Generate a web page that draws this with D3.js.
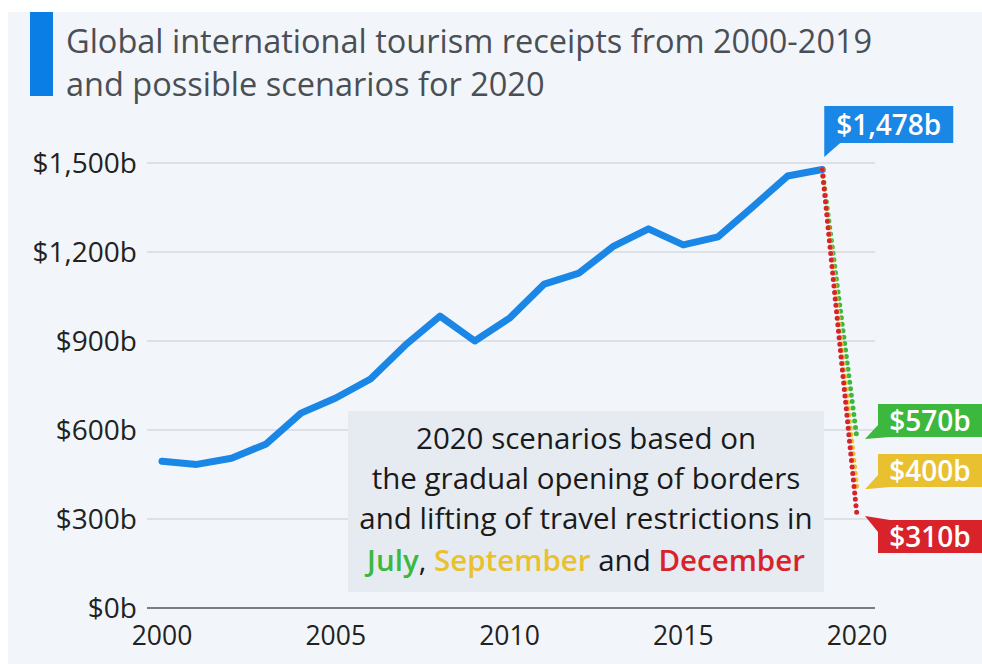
<!DOCTYPE html>
<html>
<head>
<meta charset="utf-8">
<script src="https://cdn.jsdelivr.net/npm/d3@7"></script>
<style>
  body { margin: 0; background: #fff; }
  svg { display: block; font-family: "Open Sans", "Noto Sans", sans-serif; }
</style>
</head>
<body>
<svg id="chart" width="982" height="664"></svg>
<script>
// data
const years = d3.range(2000, 2020);
const receipts = [495, 484, 505, 553, 657, 708, 772, 886, 984, 900, 977, 1092, 1129, 1220, 1278, 1224, 1251, 1352, 1456, 1478];
const scenarioNames = ['July', 'September', 'December'];
const scenarioValues = [570, 400, 310];
const scenarioColors = ['#3cb83f', '#e9c130', '#d8232a'];
const yTicks = [0, 300, 600, 900, 1200, 1500];
const xTicks = [2000, 2005, 2010, 2015, 2020];

const svg = d3.select('#chart');

svg.append('rect').attr('x', 8).attr('y', 12).attr('width', 974).attr('height', 652).attr('fill', '#f2f6fa');

// title
svg.append('rect').attr('x', 30).attr('y', 12).attr('width', 23).attr('height', 84).attr('fill', '#0b7ee6');
const title = svg.append('text').attr('fill', '#4a4f55').style('font-size', '32.5px');
title.append('tspan').attr('x', 66).attr('y', 53).text('Global international tourism receipts from 2000-2019');
title.append('tspan').attr('x', 66).attr('y', 96).text('and possible scenarios for 2020');

const x = d3.scaleLinear().domain([2000, 2020]).range([162, 857]);
const y = d3.scaleLinear().domain([0, 1500]).range([608, 163]);

// grid
const grid = svg.append('g');
grid.selectAll('line').data(yTicks).join('line')
  .attr('x1', 147).attr('x2', 875)
  .attr('y1', d => y(d)).attr('y2', d => y(d))
  .attr('stroke', d => d === 0 ? '#555' : '#c8cbcf')
  .attr('stroke-width', d => d === 0 ? 1.5 : 1);

const fmt = d3.format(',');
svg.append('g').selectAll('text').data(yTicks).join('text')
  .attr('x', 137).attr('y', d => y(d) + 10)
  .attr('text-anchor', 'end').attr('fill', '#222')
  .style('font-size', '28px')
  .text(d => '$' + fmt(d) + 'b');

svg.append('g').selectAll('text').data(xTicks).join('text')
  .attr('x', d => x(d)).attr('y', 645)
  .attr('text-anchor', 'middle').attr('fill', '#222')
  .style('font-size', '26.5px')
  .text(d => d);

// note box
const note = svg.append('g');
note.append('rect').attr('x', 348).attr('y', 411).attr('width', 476).attr('height', 181).attr('fill', '#e6ebf2');
const noteLines = ['2020 scenarios based on', 'the gradual opening of borders', 'and lifting of travel restrictions in'];
note.selectAll('text.l').data(noteLines).join('text').attr('class', 'l')
  .attr('x', 586).attr('y', (d, i) => 449 + i * 40)
  .attr('text-anchor', 'middle').attr('fill', '#1a1a1a')
  .style('font-size', '29.5px')
  .text(d => d);
const last = note.append('text').attr('x', 586).attr('y', 571)
  .attr('text-anchor', 'middle').style('font-size', '29.5px').attr('fill', '#1a1a1a');
last.append('tspan').attr('fill', scenarioColors[0]).attr('font-weight', 600).text(scenarioNames[0]);
last.append('tspan').text(', ');
last.append('tspan').attr('fill', scenarioColors[1]).attr('font-weight', 600).text(scenarioNames[1]);
last.append('tspan').text(' and ');
last.append('tspan').attr('fill', scenarioColors[2]).attr('font-weight', 600).text(scenarioNames[2]);

// main line
const line = d3.line().x((d, i) => x(years[i])).y(d => y(d));
svg.append('path').datum(receipts)
  .attr('d', line)
  .attr('fill', 'none').attr('stroke', '#1a86e6').attr('stroke-width', 7)
  .attr('stroke-linejoin', 'round').attr('stroke-linecap', 'round');

// scenario dotted lines
const lastVal = receipts[receipts.length - 1];
scenarioValues.forEach((v, i) => {
  svg.append('line')
    .attr('x1', x(2019)).attr('y1', y(lastVal))
    .attr('x2', x(2020)).attr('y2', y(v))
    .attr('stroke', scenarioColors[i]).attr('stroke-width', 5)
    .attr('stroke-linecap', 'round').attr('stroke-dasharray', '0,6.5');
});

// value tags: flag boxes with a small tail pointing at the 2020 value
function tag(val, color, below, boxY, h) {
  const g = svg.append('g');
  const boxX = 878, w = 110;
  const px = x(2020) + 8, py = y(val);
  const edge = below ? boxY : boxY + h;
  const inner = below ? boxY + 12 : boxY + h - 12;
  g.append('path')
    .attr('d', `M${boxX},${inner} L${px},${py} L${boxX + 12},${edge} L${boxX},${edge} Z`)
    .attr('fill', color);
  g.append('rect').attr('x', boxX).attr('y', boxY).attr('width', w).attr('height', h).attr('fill', color);
  g.append('text').attr('x', 930).attr('y', boxY + h / 2 + 10)
    .attr('text-anchor', 'middle').attr('fill', '#fff')
    .style('font-size', '28px').attr('font-weight', 600)
    .text('$' + fmt(val) + 'b');
}
tag(scenarioValues[0], scenarioColors[0], false, 404, 33);
tag(scenarioValues[1], scenarioColors[1], false, 454, 33);
tag(scenarioValues[2], scenarioColors[2], true, 520, 33);

// 2019 tag
const t = svg.append('g');
const tx = x(2019) + 2;
t.append('path').attr('d', `M${tx},143 L${tx},157 L${tx + 16},143 Z`).attr('fill', '#1a86e6');
t.append('rect').attr('x', tx).attr('y', 106).attr('width', 129).attr('height', 37).attr('fill', '#1a86e6');
t.append('text').attr('x', tx + 64.5).attr('y', 135)
  .attr('text-anchor', 'middle').attr('fill', '#fff')
  .style('font-size', '28px').attr('font-weight', 600)
  .text('$' + fmt(lastVal) + 'b');
</script>
</body>
</html>
